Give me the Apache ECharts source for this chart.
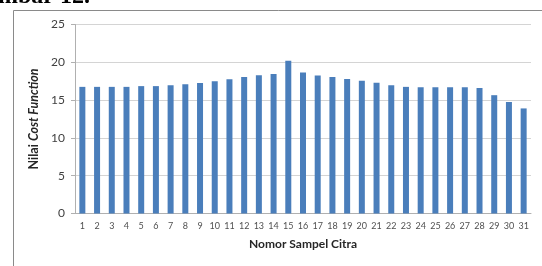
<!DOCTYPE html>
<html>
<head>
<meta charset="utf-8">
<style>
html,body{margin:0;padding:0;background:#fff;}
#main{width:542px;height:266px;}
</style>
<script src="https://cdn.jsdelivr.net/npm/echarts@6/dist/echarts.min.js"></script>
</head>
<body>
<div id="main"></div>
<script>
// data
var sampel = ['1','2','3','4','5','6','7','8','9','10','11','12','13','14','15','16',
    '17','18','19','20','21','22','23','24','25','26','27','28','29','30','31'];
var costFunction = [16.75, 16.75, 16.75, 16.75, 16.85, 16.85, 16.95, 17.1, 17.25, 17.5,
    17.75, 18.05, 18.3, 18.45, 20.2, 18.65, 18.25, 18.05, 17.8, 17.55, 17.3, 16.95,
    16.75, 16.7, 16.7, 16.7, 16.7, 16.6, 15.65, 14.75, 13.9];
var yTicks = [0, 5, 10, 15, 20, 25];

var chart = echarts.init(document.getElementById('main'));
var font = 'Lato, "Open Sans", sans-serif';

var option = {
    animation: false,
    grid: {left: 75, right: 11, top: 24.5, bottom: 52.5},
    graphic: [
        {
            type: 'rect',
            shape: {x: 13.5, y: 10.5, width: 600, height: 300},
            style: {fill: 'none', stroke: '#8a8a8a', lineWidth: 1}
        },
        {
            type: 'text',
            left: -2, top: -15,
            style: {text: 'mbar 12.', font: 'bold 24px "Liberation Serif", serif', fill: '#000'}
        }
    ],
    xAxis: {
        type: 'category',
        data: sampel,
        name: 'Nomor Sampel Citra',
        nameLocation: 'middle',
        nameGap: 25,
        nameTextStyle: {fontFamily: font, fontWeight: 'bold', fontSize: 12, color: '#262626'},
        axisLine: {lineStyle: {color: '#b0b0b0'}},
        axisTick: {length: 4, lineStyle: {color: '#b0b0b0'}},
        axisLabel: {fontFamily: font, fontSize: 9, color: '#505050', margin: 8, interval: 0}
    },
    yAxis: {
        type: 'value',
        min: yTicks[0],
        max: yTicks[yTicks.length - 1],
        interval: 5,
        name: '{b|Nilai }{i|Cost Function}',
        nameLocation: 'middle',
        nameRotate: 90,
        nameGap: 31,
        nameTextStyle: {
            rich: {
                b: {fontFamily: font, fontWeight: 'bold', fontSize: 12.5, color: '#262626'},
                i: {fontFamily: font, fontWeight: 'bold', fontStyle: 'italic', fontSize: 12.5, color: '#262626'}
            }
        },
        axisLine: {show: true, lineStyle: {color: '#b0b0b0'}},
        axisTick: {show: true, length: 4, lineStyle: {color: '#b0b0b0'}},
        axisLabel: {fontFamily: font, fontSize: 12, color: '#404040', margin: 10},
        splitLine: {lineStyle: {color: '#d4d4d4'}}
    },
    series: [{
        type: 'bar',
        data: costFunction,
        barWidth: 6,
        itemStyle: {color: '#4a7ebb'}
    }]
};
chart.setOption(option);
</script>
</body>
</html>
